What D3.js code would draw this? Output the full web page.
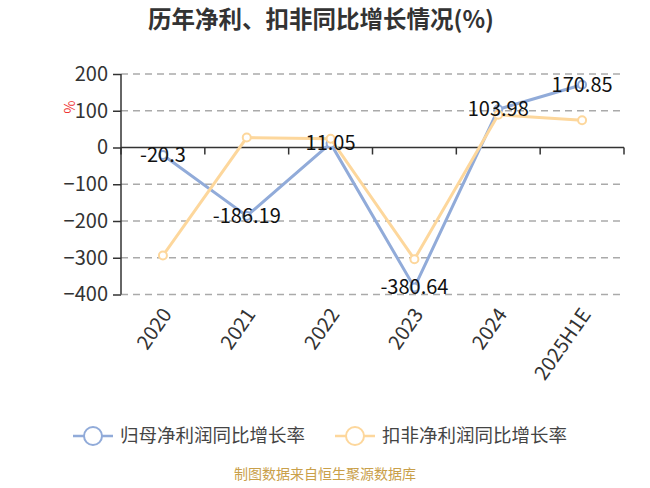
<!DOCTYPE html>
<html><head><meta charset="utf-8">
<script src="https://cdn.jsdelivr.net/npm/d3@7"></script>
<style>body{margin:0;background:#fff}svg{display:block}</style>
</head><body><div id="c"></div>
<script>
const categories = ["2020","2021","2022","2023","2024","2025H1E"];
const netProfit = [-20.3, -186.19, 11.05, -380.64, 103.98, 170.85];
const deductProfit = [-294, 27, 24, -304, 89, 74];
const yTicks = [-400,-300,-200,-100,0,100,200];
const seriesNames = ["归母净利润同比增长率","扣非净利润同比增长率"];
const colors = ["#91abd9","#fdd79c"];

const W=650,H=488;
const font='"Noto Sans CJK SC","Noto Sans",sans-serif';
const svg=d3.select("#c").append("svg").attr("width",W).attr("height",H);
const x=d3.scaleBand().domain(categories).range([121,624]);
const y=d3.scaleLinear().domain([-400,200]).range([294.5,74]);

svg.append("text").attr("x",321).attr("y",28).attr("text-anchor","middle")
 .attr("font-family",font).attr("font-weight","bold").attr("font-size",23.5).attr("fill","#333")
 .text("历年净利、扣非同比增长情况(%)");

// grid
svg.append("g").selectAll("line").data(yTicks.filter(d=>d!==0)).join("line")
 .attr("x1",121).attr("x2",624).attr("y1",d=>y(d)).attr("y2",d=>y(d))
 .attr("stroke","#aaa").attr("stroke-width",1.5).attr("stroke-dasharray","7,5");

const ya=svg.append("g").attr("transform","translate(121,0)")
 .call(d3.axisLeft(y).tickValues(yTicks).tickSize(8).tickPadding(5));
ya.select(".domain").attr("stroke","#333").attr("stroke-width",1.5).attr("d","M0,"+y(-400)+"V"+y(200));
ya.selectAll(".tick line").attr("stroke","#333").attr("stroke-width",1.5);
ya.selectAll("text").attr("font-family",font).attr("font-size",20).attr("fill","#333");

const xa=svg.append("g").attr("transform","translate(0,"+y(0)+")")
 .call(d3.axisBottom(x).tickSize(0));
xa.select(".domain").remove();
xa.append("line").attr("x1",121).attr("x2",624).attr("stroke","#333").attr("stroke-width",1.5);
xa.selectAll(".bt").data(categories.map(c=>x(c)).concat([624])).join("line")
 .attr("x1",d=>d).attr("x2",d=>d).attr("y1",0).attr("y2",7).attr("stroke","#333").attr("stroke-width",1.5);
xa.selectAll(".tick text").remove();

svg.append("g").selectAll("text").data(categories).join("text")
 .attr("transform",d=>`translate(${x(d)+x.bandwidth()/2+4},${y(-400)+16}) rotate(-55)`)
 .attr("text-anchor","end").attr("dy","0.35em")
 .attr("font-family",font).attr("font-size",20).attr("fill","#333").text(d=>d);

svg.append("text").attr("transform","translate(70,107) rotate(-90)").attr("text-anchor","middle")
 .attr("dy","0.35em").attr("font-family",font).attr("font-size",14).attr("fill","#e33").text("%");

const cx=d=>x(d)+x.bandwidth()/2;
[netProfit,deductProfit].forEach((vals,i)=>{
 const g=svg.append("g");
 const pts=categories.map((c,j)=>[cx(c),y(vals[j])]);
 g.append("path").attr("d",d3.line()(pts)).attr("fill","none").attr("stroke",colors[i]).attr("stroke-width",3);
 g.selectAll("circle").data(pts).join("circle").attr("cx",d=>d[0]).attr("cy",d=>d[1]).attr("r",4)
  .attr("fill","#fff").attr("stroke",colors[i]).attr("stroke-width",2);
});
svg.append("g").selectAll("text").data(netProfit).join("text")
 .attr("x",(d,j)=>cx(categories[j])).attr("y",d=>y(d)).attr("dy","0.35em").attr("text-anchor","middle")
 .attr("font-family",font).attr("font-size",20).attr("fill","#111").text(d=>d);

// legend
const lg=[{x:73,tx:120},{x:335,tx:382}];
seriesNames.forEach((n,i)=>{
 const g=svg.append("g");
 g.append("line").attr("x1",lg[i].x).attr("x2",lg[i].x+40).attr("y1",436).attr("y2",436).attr("stroke",colors[i]).attr("stroke-width",2.5);
 g.append("circle").attr("cx",lg[i].x+20).attr("cy",436).attr("r",9).attr("fill","#fff").attr("stroke",colors[i]).attr("stroke-width",2);
 g.append("text").attr("x",lg[i].tx).attr("y",436).attr("dy","0.35em").attr("font-family",font).attr("font-size",18.5).attr("fill","#444").text(n);
});
svg.append("text").attr("x",325).attr("y",479).attr("text-anchor","middle").attr("font-family",font)
 .attr("font-size",14).attr("fill","#c9a04a").text("制图数据来自恒生聚源数据库");
</script></body></html>
